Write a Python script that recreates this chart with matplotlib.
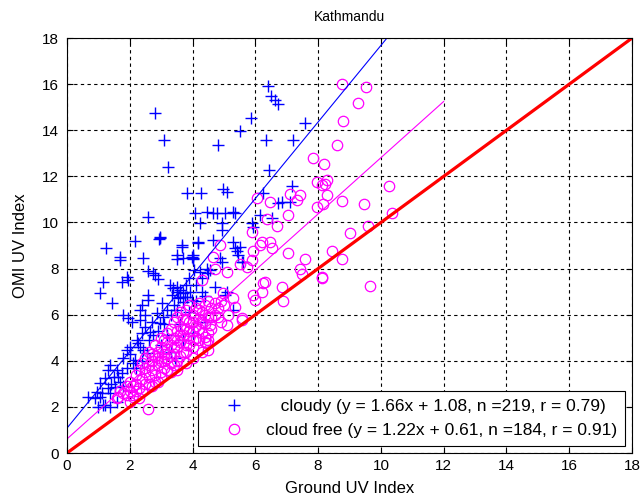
import numpy as np
import matplotlib
matplotlib.use("Agg")
import matplotlib.pyplot as plt

plt.rcParams['font.family'] = ['Liberation Sans', 'DejaVu Sans']

# cloudy days: ground UV index vs OMI UV index
cloudy_x = [2.80, 3.10, 3.21, 2.57, 1.23, 2.17, 2.94, 2.97, 3.81, 4.27, 4.98, 5.09, 4.82, 5.52,
            5.86, 6.39, 6.49, 6.63, 6.73, 6.33, 7.21, 7.58, 6.45, 7.18, 6.73, 6.84, 7.10, 6.25,
            4.08, 4.45, 4.66, 4.77, 5.03, 5.30, 5.35, 4.24, 4.93, 4.93, 5.88, 5.94, 6.15, 6.52,
            4.18, 4.66, 5.30, 5.35, 5.41, 5.46, 5.62, 3.65, 3.49, 4.02, 1.69, 4.87, 4.93, 4.45,
            4.56, 4.50, 4.29, 5.03, 5.30, 5.09, 5.51, 5.56, 1.69, 2.43, 3.49, 3.97, 4.02, 4.06,
            2.59, 2.80, 2.91, 1.90, 1.95, 1.74, 1.16, 1.05, 1.42,
            3.28, 3.39, 3.49, 3.60, 3.71, 3.81, 3.97, 3.55, 3.33, 3.71, 2.59, 2.59, 2.38, 2.33,
            2.48, 2.33, 2.06, 1.79, 1.95, 2.01, 1.37, 1.32, 1.21, 1.05, 0.95, 0.68, 1.05, 1.37,
            1.37, 1.16, 1.63, 1.69, 1.53, 1.74, 2.22, 2.33, 2.43, 2.54, 2.17, 2.64, 2.75, 2.96,
            3.07, 3.18, 3.02, 2.86, 2.70, 2.48, 2.38, 2.27, 3.44, 1.90,
            3.71, 4.02, 3.65, 4.18, 2.96, 2.75, 3.51, 3.92, 3.76, 3.60, 4.24,
            2.90, 3.10, 3.30, 3.40, 3.50, 3.20, 2.60, 2.00, 2.10, 1.90, 1.80, 1.60, 1.50, 1.40,
            1.30, 1.10, 0.90, 1.00, 1.20, 1.60, 1.80, 2.20, 2.40, 3.00, 3.60, 3.90, 4.10, 4.30,
            4.40, 4.70, 3.80, 3.90, 4.10, 3.30, 3.70, 4.00, 4.40]
cloudy_y = [14.77, 13.57, 12.42, 10.25, 8.90, 9.19, 9.27, 9.33, 11.30, 11.30, 11.45, 11.33, 13.34, 13.98,
            14.54, 15.92, 15.48, 15.31, 15.16, 13.57, 13.57, 14.30, 12.27, 11.58, 10.86, 10.88, 10.90, 11.27,
            10.41, 10.45, 10.41, 10.40, 10.41, 10.45, 10.41, 9.96, 9.96, 9.67, 9.96, 9.82, 10.32, 10.20,
            9.17, 9.24, 9.17, 8.90, 8.75, 8.60, 8.30, 9.02, 8.59, 8.59, 8.51, 8.44, 8.30, 8.00,
            7.94, 7.79, 7.58, 6.85, 6.20, 6.99, 8.95, 8.30, 8.37, 8.44, 8.40, 8.51, 8.40, 7.94,
            7.88, 7.72, 7.53, 7.65, 7.50, 7.40, 7.40, 6.93, 6.49,
            7.29, 7.14, 7.21, 7.07, 6.93, 6.78, 6.63, 6.71, 6.85, 6.56, 6.85, 6.63, 6.42, 6.20,
            5.98, 5.77, 5.69, 5.98, 5.84, 4.61, 3.82, 3.60, 3.24, 3.02, 2.66, 2.44, 2.44, 2.59,
            2.00, 2.08, 3.31, 3.09, 2.88, 3.46, 4.90, 4.61, 4.47, 4.32, 4.03, 5.26, 5.12, 5.62,
            5.91, 6.20, 6.49, 6.06, 5.69, 5.48, 5.19, 4.76, 4.10, 4.47,
            8.44, 8.44, 8.95, 9.09, 9.38, 7.79, 7.00, 6.99, 6.78, 6.78, 7.86,
            5.30, 5.60, 6.00, 6.40, 6.20, 5.10, 4.90, 4.30, 3.90, 3.70, 4.10, 3.60, 3.30, 3.00,
            2.80, 2.60, 2.40, 2.00, 2.10, 2.20, 2.90, 3.70, 4.00, 4.70, 5.60, 6.10, 6.60, 7.00,
            6.80, 7.20, 7.30, 7.60, 7.30, 4.40, 4.90, 5.20, 5.70]

# cloud free days
clear_x = [8.75, 9.51, 9.26, 8.80, 8.59, 7.85, 8.20, 7.95, 8.11, 8.27, 8.22, 8.27, 7.95, 8.14,
           8.77, 9.47, 10.27, 10.34, 9.60, 9.02, 8.43, 7.05, 7.58, 8.75, 7.42, 7.32, 7.10, 7.05,
           6.68, 6.36, 6.47, 6.04, 5.90, 6.20, 6.47, 6.15, 6.52, 5.94, 4.87, 4.66, 7.42, 7.48,
           8.11, 9.65, 8.13, 6.84, 6.89, 6.25, 6.20, 5.94, 5.99, 5.88, 5.72, 5.35, 5.14, 5.09,
           5.56, 4.56, 4.45, 4.50, 4.40, 4.29, 4.71, 5.09, 5.51, 4.98, 5.30, 5.56, 4.50, 2.59,
           6.31,
           1.60, 1.80, 1.90, 2.00, 2.00, 2.10, 2.20, 2.20, 2.30, 2.30, 2.40, 2.40, 2.50, 2.50,
           2.50, 2.60, 2.60, 2.60, 2.70, 2.70, 2.70, 2.80, 2.80, 2.80, 2.90, 2.90, 3.00, 3.00,
           3.00, 3.00, 3.10, 3.10, 3.10, 3.20, 3.20, 3.20, 3.30, 3.30, 3.30, 3.40, 3.40, 3.40,
           3.50, 3.50, 3.50, 3.50, 3.60, 3.60, 3.60, 3.70, 3.70, 3.70, 3.80, 3.80, 3.80, 3.90,
           3.90, 3.90, 4.00, 4.00, 4.00, 4.10, 4.10, 4.20, 4.20, 4.20, 4.30, 4.30, 4.40, 4.40,
           4.50, 4.50, 4.60, 4.60, 4.70, 4.70, 4.80, 4.90, 5.00,
           3.50, 3.80, 4.00, 3.30, 2.90, 4.30, 2.30, 4.40, 1.63, 2.10, 2.00, 1.70,
           2.10, 2.40, 2.60, 2.80, 3.00, 3.20, 3.40, 3.60, 3.80, 4.00, 4.20, 4.40, 4.60, 4.80,
           4.90, 3.10, 3.30, 3.50, 3.70, 3.90, 4.10, 4.30, 2.50, 2.70, 2.90, 3.20, 3.60, 3.80,
           4.00, 4.50, 1.90, 2.20, 3.40, 3.90, 4.20]
clear_y = [16.00, 15.89, 15.19, 14.40, 13.36, 12.78, 12.53, 11.77, 11.62, 11.84, 11.67, 11.19, 10.68, 10.80,
           10.94, 10.80, 11.59, 10.42, 9.86, 9.55, 8.77, 8.66, 8.41, 8.40, 11.19, 10.97, 11.22, 10.32,
           9.84, 10.13, 10.90, 11.07, 9.60, 9.16, 9.16, 9.02, 8.88, 8.75, 9.02, 8.51, 8.00, 7.76,
           7.65, 7.24, 7.58, 7.19, 6.60, 7.39, 6.99, 6.85, 6.63, 8.37, 8.08, 6.35, 5.98, 5.55,
           5.77, 5.55, 4.76, 4.47, 5.04, 7.50, 8.00, 7.86, 8.20, 6.93, 6.71, 5.84, 4.90, 1.90,
           7.43,
           2.40, 2.60, 2.90, 2.70, 3.10, 2.50, 3.00, 3.40, 2.80, 3.60, 3.20, 3.90, 3.00, 3.50,
           4.10, 3.30, 3.80, 4.40, 2.90, 3.60, 4.00, 3.40, 4.20, 4.70, 3.80, 4.40, 3.50, 4.00,
           4.60, 5.00, 3.70, 4.30, 4.90, 4.10, 4.50, 5.20, 3.90, 4.70, 5.40, 4.30, 5.00, 5.70,
           4.00, 4.60, 5.30, 5.90, 4.80, 5.50, 6.10, 4.40, 5.10, 5.80, 4.70, 5.40, 6.20, 5.00,
           5.70, 6.40, 4.60, 5.30, 6.00, 5.50, 6.30, 4.90, 5.80, 6.50, 5.20, 6.10, 5.60, 6.40,
           5.90, 6.60, 5.40, 6.30, 6.00, 6.50, 6.30, 5.70, 6.40,
           3.60, 3.90, 4.10, 3.50, 3.10, 4.40, 2.40, 4.80, 2.44, 2.44, 2.20, 2.70,
           2.90, 2.70, 3.00, 3.10, 3.30, 3.60, 3.80, 4.20, 4.40, 4.90, 5.40, 6.00, 5.90, 5.90,
           6.60, 4.00, 4.20, 4.90, 5.40, 5.30, 5.00, 5.70, 3.70, 4.30, 4.10, 4.80, 5.10, 5.80,
           5.70, 5.20, 2.50, 2.70, 4.60, 4.70, 6.20]

# linear fits (slope, intercept) and plotted range of each fit
cloudy_fit = (1.66, 1.08)
clear_fit = (1.22, 0.61)
fit_x = np.array([0, 12])
one_to_one = np.array([0, 18])

ticks = np.arange(0, 19, 2)

fig = plt.figure(figsize=(6.41, 5.01), dpi=100)
ax = fig.add_axes([0.1045, 0.0958, 0.8815, 0.8282])

ax.plot(cloudy_x, cloudy_y, '+', color='blue', markersize=8, markeredgewidth=1.0,
        label='   cloudy (y = 1.66x + 1.08, n =219, r = 0.79)')
ax.plot(clear_x, clear_y, 'o', color='magenta', markerfacecolor='none', markersize=7.5,
        markeredgewidth=0.9, label='cloud free (y = 1.22x + 0.61, n =184, r = 0.91)')

ax.plot(fit_x, cloudy_fit[0] * fit_x + cloudy_fit[1], color='blue', linewidth=0.8)
ax.plot(fit_x, clear_fit[0] * fit_x + clear_fit[1], color='magenta', linewidth=0.8)
ax.plot(one_to_one, one_to_one, color='red', linewidth=2.3)

ax.set_xlim(0, 18)
ax.set_ylim(0, 18)
ax.set_xticks(ticks)
ax.set_yticks(ticks)
ax.grid(True, color='black', linestyle=(0, (3, 3)), linewidth=0.8)
ax.tick_params(direction='in', top=True, right=True, length=4, labelsize=11)
ax.tick_params(axis='y', pad=6)
ax.tick_params(axis='x', pad=4)
for s in ax.spines.values():
    s.set_linewidth(0.8)

ax.set_title('Kathmandu', fontsize=10, pad=12)
ax.set_xlabel('Ground UV Index', fontsize=12, labelpad=6)
ax.set_ylabel('OMI UV Index', fontsize=12, labelpad=10)

leg = ax.legend(loc='lower right', bbox_to_anchor=(0.988, 0.017), borderaxespad=0,
                fontsize=12.5, fancybox=False, framealpha=1, edgecolor='black',
                handlelength=3.3, handletextpad=0.2, borderpad=0.45, labelspacing=0.5)
leg.get_frame().set_linewidth(0.8)

plt.savefig('out.png', dpi=100)
